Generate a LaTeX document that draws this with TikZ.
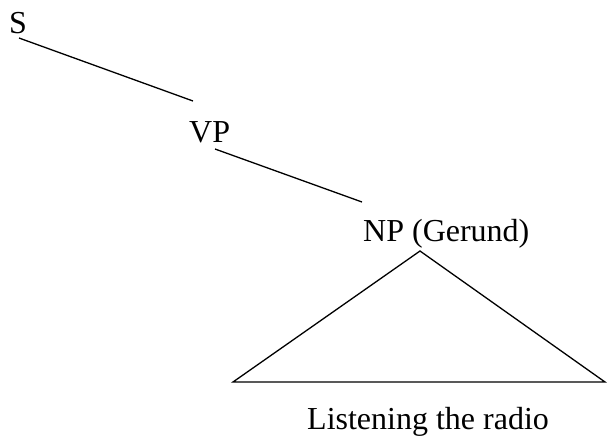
\documentclass[tikz,border=0pt]{standalone}
\usepackage{fontspec}
\setmainfont{Liberation Serif}
\begin{document}
\begin{tikzpicture}[x=1pt,y=-1pt,
  lab/.style={anchor=base west,inner sep=0pt,font=\fontsize{32}{37}\selectfont},
  edge/.style={line width=1.3pt,line join=miter}]
\useasboundingbox (0,0) rectangle (607,440);
\node[lab] (S) at (9,33) {S};
\node[lab] (VP) at (189,142) {VP};
\node[lab] (NP) at (363,241) {NP (Gerund)};
\node[lab] (L) at (307,429) {Listening the radio};
\coordinate (s1) at (19,38);
\coordinate (s2) at (193,101);
\coordinate (v1) at (215,149);
\coordinate (v2) at (362,202);
\coordinate (apex) at (420,251);
\coordinate (tl) at (233,382);
\coordinate (tr) at (605,382);
\draw[edge] (s1) -- (s2);
\draw[edge] (v1) -- (v2);
\draw[edge] (apex) -- (tl) -- (tr) -- cycle;
\end{tikzpicture}
\end{document}
